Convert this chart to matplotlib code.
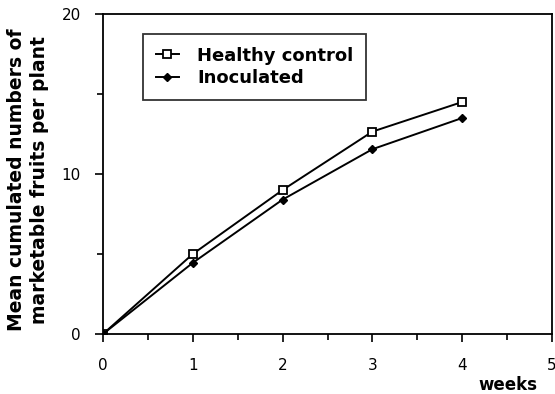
import matplotlib
matplotlib.use("Agg")
import matplotlib.pyplot as plt
from matplotlib.ticker import MultipleLocator

weeks = [0, 1, 2, 3, 4]
healthy = [0, 5.0, 9.0, 12.65, 14.5]
inoculated = [0, 4.45, 8.4, 11.55, 13.5]
series_labels = ["Healthy control", "Inoculated"]
xlabel = "weeks"
ylabel = "Mean cumulated numbers of\nmarketable fruits per plant"

fig = plt.figure(figsize=(5.55, 3.94), dpi=100)
ax = fig.add_axes([103/555, 1-334/394, 449/555, 320/394])

ax.plot(weeks, healthy, color="black", lw=1.4, marker="s", ms=6,
        mfc="white", mec="black", mew=1.3, label=series_labels[0], zorder=3)
ax.plot(weeks, inoculated, color="black", lw=1.4, marker="D", ms=4.5,
        mfc="black", mec="black", label=series_labels[1], zorder=3)

ax.set_xlim(0, 5)
ax.set_ylim(0, 20)
ax.xaxis.set_major_locator(MultipleLocator(1))
ax.xaxis.set_minor_locator(MultipleLocator(0.5))
ax.yaxis.set_major_locator(MultipleLocator(10))
ax.yaxis.set_minor_locator(MultipleLocator(5))
ax.tick_params(which="major", direction="out", length=6, width=1.2, labelsize=11, colors="black")
ax.tick_params(which="minor", direction="out", length=4, width=1.2)
ax.tick_params(axis="x", which="major", pad=11)
ax.tick_params(axis="y", which="major", pad=10)
for s in ax.spines.values():
    s.set_linewidth(1.3)

ax.text(0.902, -0.16, xlabel, transform=ax.transAxes, ha="center", va="center",
        fontsize=12, fontweight="bold")
fig.text(28/555, 1-180/394, ylabel, rotation=90, ha="center", va="center",
         fontsize=13.5, fontweight="bold", linespacing=1.3)

leg = ax.legend(loc="upper left", bbox_to_anchor=(0.089, 0.9375), frameon=True,
                fancybox=False, edgecolor="black", prop={"weight": "bold", "size": 13},
                handlelength=1.3, borderpad=0.7, labelspacing=0.25, handletextpad=1.0,
                borderaxespad=0)
leg.get_frame().set_linewidth(1.3)

fig.savefig("out.png", dpi=100)
